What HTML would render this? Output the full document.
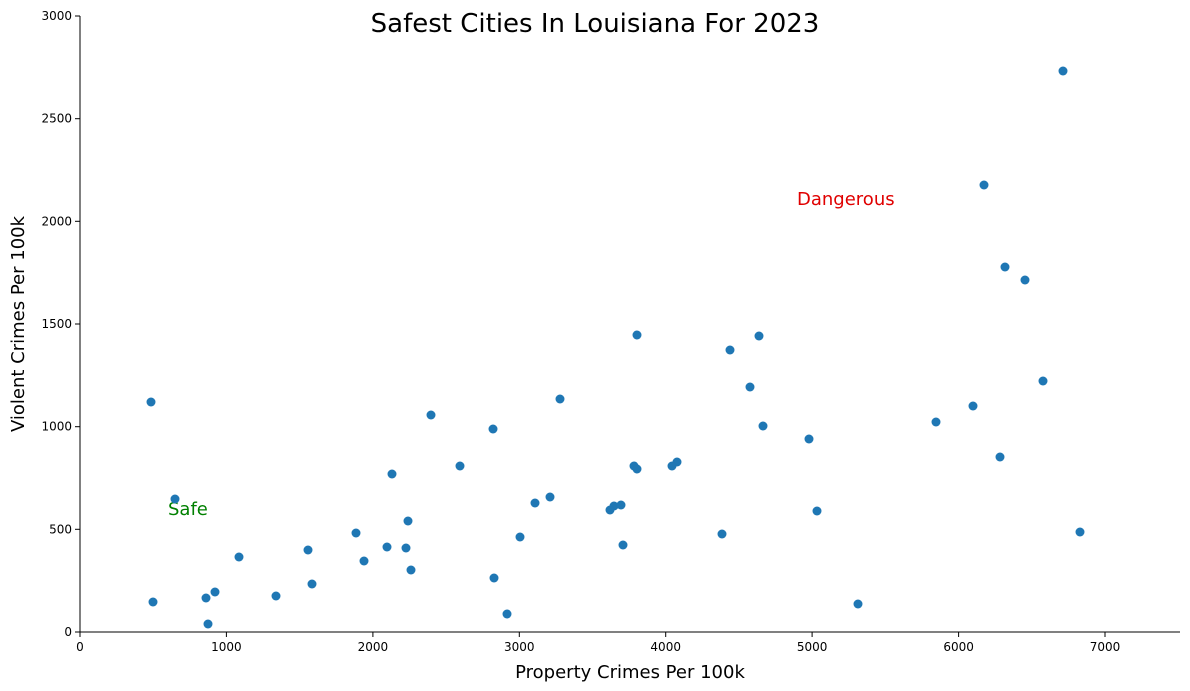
<!DOCTYPE html>
<html><head><meta charset="utf-8"><style>body{margin:0;background:#fff}svg{display:block;font-family:"DejaVu Sans","Liberation Sans",sans-serif}</style></head><body>
<svg width="1190" height="691" xmlns="http://www.w3.org/2000/svg">
<text x="595" y="32" font-size="26" text-anchor="middle">Safest Cities In Louisiana For 2023</text>
<line x1="80" y1="16" x2="80" y2="632" stroke="#000" stroke-width="1"/>
<line x1="80" y1="632" x2="1180" y2="632" stroke="#000" stroke-width="1"/>
<g font-size="12" text-anchor="middle">
<g stroke="#000"><line x1="80" y1="632" x2="80" y2="637"/><line x1="226.4" y1="632" x2="226.4" y2="637"/><line x1="372.9" y1="632" x2="372.9" y2="637"/><line x1="519.3" y1="632" x2="519.3" y2="637"/><line x1="665.7" y1="632" x2="665.7" y2="637"/><line x1="812.1" y1="632" x2="812.1" y2="637"/><line x1="958.6" y1="632" x2="958.6" y2="637"/><line x1="1105" y1="632" x2="1105" y2="637"/></g>
<text x="80" y="651">0</text><text x="226.4" y="651">1000</text><text x="372.9" y="651">2000</text><text x="519.3" y="651">3000</text><text x="665.7" y="651">4000</text><text x="812.1" y="651">5000</text><text x="958.6" y="651">6000</text><text x="1105" y="651">7000</text>
</g>
<g font-size="12" text-anchor="end">
<g stroke="#000"><line x1="75" y1="632" x2="80" y2="632"/><line x1="75" y1="529.3" x2="80" y2="529.3"/><line x1="75" y1="426.7" x2="80" y2="426.7"/><line x1="75" y1="324" x2="80" y2="324"/><line x1="75" y1="221.3" x2="80" y2="221.3"/><line x1="75" y1="118.7" x2="80" y2="118.7"/><line x1="75" y1="16" x2="80" y2="16"/></g>
<text x="72" y="636">0</text><text x="72" y="533.3">500</text><text x="72" y="430.7">1000</text><text x="72" y="328">1500</text><text x="72" y="225.3">2000</text><text x="72" y="122.7">2500</text><text x="72" y="20">3000</text>
</g>
<text x="630" y="678" font-size="18" text-anchor="middle">Property Crimes Per 100k</text>
<text transform="translate(24,324) rotate(-90)" font-size="18" text-anchor="middle">Violent Crimes Per 100k</text>
<text x="797" y="205" font-size="18" fill="#e00000">Dangerous</text>
<text x="168" y="515" font-size="18" fill="#008000">Safe</text>
<g fill="#1f77b4">
<circle cx="1063" cy="71" r="4.5"/><circle cx="984" cy="185" r="4.5"/><circle cx="1005" cy="267" r="4.5"/><circle cx="1025" cy="280" r="4.5"/><circle cx="759" cy="336" r="4.5"/><circle cx="637" cy="335" r="4.5"/><circle cx="730" cy="350" r="4.5"/><circle cx="750" cy="387" r="4.5"/><circle cx="1043" cy="381" r="4.5"/><circle cx="151" cy="402" r="4.5"/><circle cx="560" cy="399" r="4.5"/><circle cx="431" cy="415" r="4.5"/><circle cx="973" cy="406" r="4.5"/><circle cx="763" cy="426" r="4.5"/><circle cx="936" cy="422" r="4.5"/><circle cx="493" cy="429" r="4.5"/><circle cx="809" cy="439" r="4.5"/><circle cx="1000" cy="457" r="4.5"/><circle cx="460" cy="466" r="4.5"/><circle cx="677" cy="462" r="4.5"/><circle cx="672" cy="466" r="4.5"/><circle cx="634" cy="466" r="4.5"/><circle cx="637" cy="469" r="4.5"/><circle cx="392" cy="474" r="4.5"/><circle cx="175" cy="499" r="4.5"/><circle cx="817" cy="511" r="4.5"/><circle cx="535" cy="503" r="4.5"/><circle cx="550" cy="497" r="4.5"/><circle cx="614" cy="506" r="4.5"/><circle cx="621" cy="505" r="4.5"/><circle cx="610" cy="510" r="4.5"/><circle cx="408" cy="521" r="4.5"/><circle cx="356" cy="533" r="4.5"/><circle cx="520" cy="537" r="4.5"/><circle cx="623" cy="545" r="4.5"/><circle cx="722" cy="534" r="4.5"/><circle cx="1080" cy="532" r="4.5"/><circle cx="387" cy="547" r="4.5"/><circle cx="406" cy="548" r="4.5"/><circle cx="308" cy="550" r="4.5"/><circle cx="239" cy="557" r="4.5"/><circle cx="364" cy="561" r="4.5"/><circle cx="411" cy="570" r="4.5"/><circle cx="494" cy="578" r="4.5"/><circle cx="312" cy="584" r="4.5"/><circle cx="276" cy="596" r="4.5"/><circle cx="215" cy="592" r="4.5"/><circle cx="206" cy="598" r="4.5"/><circle cx="153" cy="602" r="4.5"/><circle cx="858" cy="604" r="4.5"/><circle cx="507" cy="614" r="4.5"/><circle cx="208" cy="624" r="4.5"/>
</g>
</svg>
</body></html>
